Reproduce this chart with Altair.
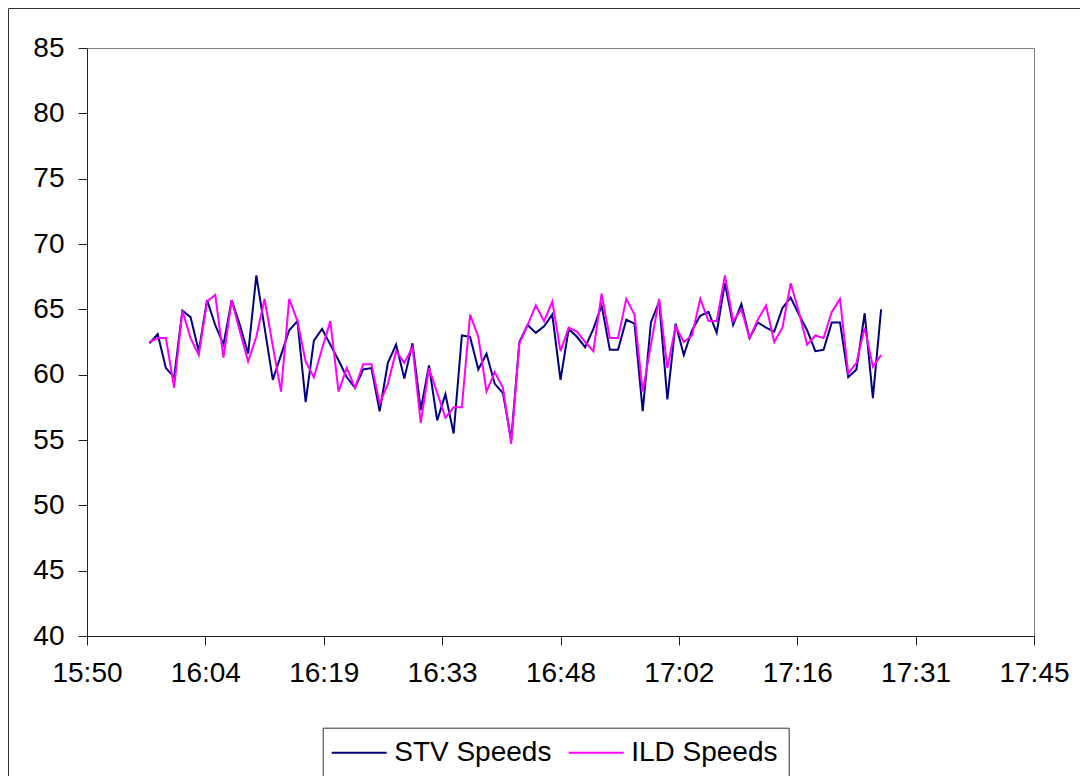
import altair as alt
import pandas as pd

# ---- data (one reading per minute, 15:58 .. 17:27) ----
start_minute = 958  # 15:58 expressed in minutes after midnight
stv_speeds = [
    62.4, 63.1, 60.5, 59.8, 64.9, 64.4, 61.8, 65.7, 63.8, 62.3,
    65.7, 63.8, 61.6, 67.6, 63.6, 59.6, 61.5, 63.4, 64.1, 57.9,
    62.6, 63.5, 62.3, 61.1, 59.8, 59.0, 60.4, 60.5, 57.2, 60.9,
    62.3, 59.7, 62.4, 57.3, 60.7, 56.5, 58.5, 55.5, 63.0, 62.9,
    60.4, 61.6, 59.3, 58.6, 55.0, 62.5, 63.8, 63.2, 63.7, 64.6,
    59.6, 63.5, 62.9, 62.1, 63.5, 65.3, 61.9, 61.9, 64.2, 63.9,
    57.2, 64.0, 65.6, 58.1, 63.9, 61.5, 63.4, 64.5, 64.8, 63.2,
    67.0, 63.8, 65.4, 62.8, 64.0, 63.6, 63.3, 65.1, 65.9, 64.6,
    63.4, 61.8, 61.9, 64.0, 64.0, 59.8, 60.4, 64.7, 58.2, 65.0,
]
ild_speeds = [
    62.5, 62.8, 62.8, 59.0, 64.9, 62.8, 61.5, 65.6, 66.1, 61.3,
    65.7, 63.3, 61.0, 62.9, 65.8, 62.2, 58.7, 65.8, 64.1, 61.0,
    59.8, 62.0, 64.1, 58.7, 60.5, 59.0, 60.8, 60.8, 57.8, 59.3,
    61.8, 60.9, 62.1, 56.3, 60.5, 58.6, 56.7, 57.5, 57.5, 64.6,
    62.9, 58.7, 60.2, 59.0, 54.7, 62.4, 63.8, 65.3, 64.1, 65.6,
    61.8, 63.6, 63.3, 62.5, 61.8, 66.2, 62.8, 62.8, 65.8, 64.6,
    58.7, 62.3, 65.8, 60.5, 63.7, 62.5, 63.0, 65.8, 64.1, 64.1,
    67.6, 64.1, 65.0, 62.8, 64.2, 65.3, 62.5, 63.6, 67.0, 64.8,
    62.3, 63.0, 62.8, 64.8, 65.8, 60.1, 60.9, 63.6, 60.6, 61.5,
]
series_names = ["STV Speeds", "ILD Speeds"]
series_colors = ["#000080", "#FF00FF"]

x_tick_labels = ["15:50", "16:04", "16:19", "16:33", "16:48",
                 "17:02", "17:16", "17:31", "17:45"]
x_first_tick = 950.4   # 15:50:24 in minutes
x_tick_step = 14.4     # Excel's 0.01-day major unit
y_ticks = [40, 45, 50, 55, 60, 65, 70, 75, 80, 85]

# ---- build the long table ----
minutes = [start_minute + i for i in range(len(stv_speeds))]
rows = []
for name, values in zip(series_names, [stv_speeds, ild_speeds]):
    for m, v in zip(minutes, values):
        rows.append({"t": m, "speed": v, "series": name})
df = pd.DataFrame(rows)

x_tick_values = [round(x_first_tick + x_tick_step * i, 3) for i in range(len(x_tick_labels))]
label_array = "[" + ",".join(f"'{s}'" for s in x_tick_labels) + "]"
label_expr = f"{label_array}[round((datum.value - {x_first_tick}) / {x_tick_step})]"

FONT = "Liberation Sans"
AXIS_COLOR = "#222222"

lines = alt.Chart(df).mark_line(strokeWidth=2).encode(
    x=alt.X(
        "t:Q",
        scale=alt.Scale(domain=[x_tick_values[0], x_tick_values[-1]], nice=False, zero=False),
        axis=alt.Axis(
            values=x_tick_values, labelExpr=label_expr, title=None, grid=False,
            tickSize=9, labelFontSize=28, labelFont=FONT, labelColor="black",
            labelPadding=14, domainColor=AXIS_COLOR, tickColor=AXIS_COLOR,
            labelFlush=False, labelOverlap=False,
        ),
    ),
    y=alt.Y(
        "speed:Q",
        scale=alt.Scale(domain=[y_ticks[0], y_ticks[-1]], nice=False, zero=False),
        axis=alt.Axis(
            values=y_ticks, title=None, grid=False, tickSize=9,
            labelFontSize=28, labelFont=FONT, labelColor="black", labelPadding=14,
            domainColor=AXIS_COLOR, tickColor=AXIS_COLOR,
        ),
    ),
    color=alt.Color(
        "series:N",
        scale=alt.Scale(domain=series_names, range=series_colors),
        title=None,
        legend=alt.Legend(
            orient="none", legendX=235.7, legendY=679.7, direction="horizontal",
            symbolType="M-5,0H5", symbolSize=121, symbolStrokeWidth=2,
            symbolOffset=11.5, labelOffset=21,
            labelFontSize=28, labelFont=FONT, labelColor="black",
            columnPadding=13, padding=11, strokeColor="#333333", fillColor="white",
            labelLimit=400, cornerRadius=0,
        ),
    ),
    detail="series:N",
    order="t:Q",
)

# outer chart-area frame (decoration, extends past the page edges like the reference)
frame = alt.Chart(pd.DataFrame({"k": [0]})).mark_rect(
    fill="white", fillOpacity=0, stroke="#333333", strokeWidth=1
).encode(
    x=alt.value(-78.5), x2=alt.value(1100), y=alt.value(-39.5), y2=alt.value(800)
)

chart = alt.layer(frame, lines).properties(
    width=947, height=588,
    autosize=alt.AutoSizeParams(type="none"),
    padding={"left": 79, "top": 40, "right": 46, "bottom": 140},
    background="white",
).configure_view(stroke="#808080", strokeWidth=1)

chart.save("out.html", embed_options={"renderer": "svg", "actions": False})
